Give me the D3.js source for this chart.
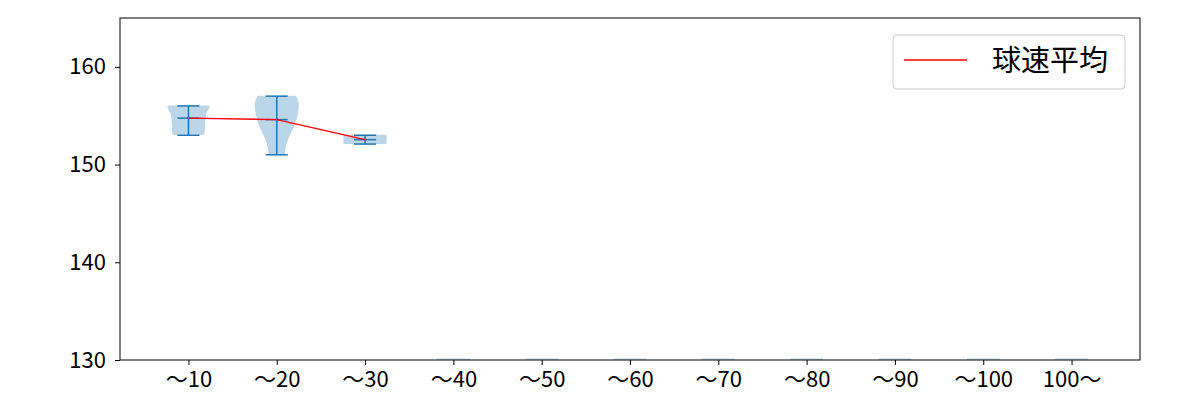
<!DOCTYPE html>
<head>
    <meta charset="utf-8">
    <title>球速平均</title>
    <style>
        body { margin: 0; background: #fff; }
        text { font-family: "Noto Sans CJK JP", "DejaVu Sans", sans-serif; fill: #000; }
        .axis text { font-size: 22px; }
        .axis path, .axis line { stroke: #000; }
    </style>
    <script src="https://cdn.jsdelivr.net/npm/d3@7"></script>
</head>
<body>
    <script>
        // categories (x tick labels)
        var categories = ["〜10", "〜20", "〜30", "〜40", "〜50", "〜60", "〜70", "〜80", "〜90", "〜100", "100〜"];
        var yTicks = [130, 140, 150, 160];

        // whisker ends and mean per category (null = no pitches)
        var mins  = [153, 151, 152.1, null, null, null, null, null, null, null, null];
        var maxs  = [156, 157, 153.0, null, null, null, null, null, null, null, null];
        var means = [154.75, 154.6, 152.55, null, null, null, null, null, null, null, null];

        // violin outline: [speed, relative half width]
        var shape10 = [[156.05, 0.92], [155.9, 0.97], [155.6, 0.9], [155.3, 0.82], [155, 0.78], [154.5, 0.76], [154, 0.75], [153.5, 0.74], [153.05, 0.72]];
        var shape20 = [[157.05, 0.85], [156.8, 0.93], [156.3, 1.0], [155.8, 1.0], [155.3, 0.97], [154.8, 0.92], [154.3, 0.85], [153.8, 0.77], [153.3, 0.66], [152.8, 0.55], [152.3, 0.47], [151.8, 0.41], [151.4, 0.38], [150.95, 0.36]];
        var shape30 = [[153.05, 0.95], [152.9, 1.0], [152.6, 0.96], [152.3, 1.0], [152.1, 0.95]];
        var shapes = [shape10, shape20, shape30, [], [], [], [], [], [], [], []];

        var margin = { top: 18, right: 60, bottom: 40, left: 120 },
            width = 1200 - margin.left - margin.right,
            height = 400 - margin.top - margin.bottom;

        var x = d3.scaleLinear()
            .domain([0.225, 11.775])
            .range([0, width]);
        var y = d3.scaleLinear()
            .domain([130, 165])
            .range([height, 0]);
        var halfW = x(0.25) - x(0);
        var capW = x(0.125) - x(0);

        var svg = d3.select("body")
            .append("svg")
            .attr("width", 1200)
            .attr("height", 400);

        var plot = svg.append("g")
            .attr("transform", "translate(" + margin.left + "," + margin.top + ")");

        svg.append("defs").append("clipPath").attr("id", "clip")
            .append("rect").attr("width", width).attr("height", height);

        var body = plot.append("g").attr("clip-path", "url(#clip)");

        var area = d3.area()
            .y(d => y(d[0]))
            .curve(d3.curveBasis);

        categories.forEach(function (c, i) {
            var cx = x(i + 1);
            if (shapes[i].length) {
                body.append("path")
                    .datum(shapes[i])
                    .attr("d", area.x0(d => cx - d[1] * halfW).x1(d => cx + d[1] * halfW))
                    .attr("fill", "#1f77b4")
                    .attr("fill-opacity", 0.3);
            } else {
                body.append("line")
                    .attr("x1", cx - halfW * 0.75).attr("x2", cx + halfW * 0.75)
                    .attr("y1", y(130)).attr("y2", y(130))
                    .attr("stroke", "#1f77b4").attr("stroke-opacity", 0.3)
                    .attr("stroke-width", 3);
            }
        });

        var lines = plot.append("g")
            .attr("stroke", "#1f77b4")
            .attr("stroke-width", 1.5);
        categories.forEach(function (c, i) {
            if (mins[i] === null) return;
            var cx = x(i + 1);
            lines.append("line").attr("x1", cx).attr("x2", cx).attr("y1", y(mins[i])).attr("y2", y(maxs[i]));
            [mins[i], maxs[i], means[i]].forEach(function (v) {
                lines.append("line").attr("x1", cx - capW).attr("x2", cx + capW).attr("y1", y(v)).attr("y2", y(v));
            });
        });

        var meanData = means.map((v, i) => [i + 1, v]).filter(d => d[1] !== null);
        plot.append("path")
            .datum(meanData)
            .attr("d", d3.line().x(d => x(d[0])).y(d => y(d[1])))
            .attr("fill", "none")
            .attr("stroke", "red")
            .attr("stroke-width", 1.4);

        plot.append("g")
            .attr("class", "axis")
            .attr("transform", "translate(0," + height + ")")
            .call(d3.axisBottom(x).tickValues(d3.range(1, 12)).tickFormat(d => categories[d - 1]).tickSize(5).tickPadding(6).tickSizeOuter(0));

        plot.append("g")
            .attr("class", "axis")
            .call(d3.axisLeft(y).tickValues(yTicks).tickSize(5).tickPadding(9).tickSizeOuter(0));

        plot.append("rect")
            .attr("width", width).attr("height", height)
            .attr("fill", "none").attr("stroke", "#000").attr("stroke-width", 1);

        svg.selectAll(".axis .domain").remove();

        // legend
        var legend = svg.append("g").attr("transform", "translate(893,35)");
        legend.append("rect")
            .attr("width", 232).attr("height", 54).attr("rx", 4)
            .attr("fill", "#fff").attr("fill-opacity", 0.8)
            .attr("stroke", "#ccc");
        legend.append("line")
            .attr("x1", 11).attr("x2", 74).attr("y1", 25).attr("y2", 25)
            .attr("stroke", "red").attr("stroke-width", 1.4);
        legend.append("text")
            .attr("x", 99).attr("y", 36)
            .style("font-size", "29px")
            .text("球速平均");
    </script>
</body>
